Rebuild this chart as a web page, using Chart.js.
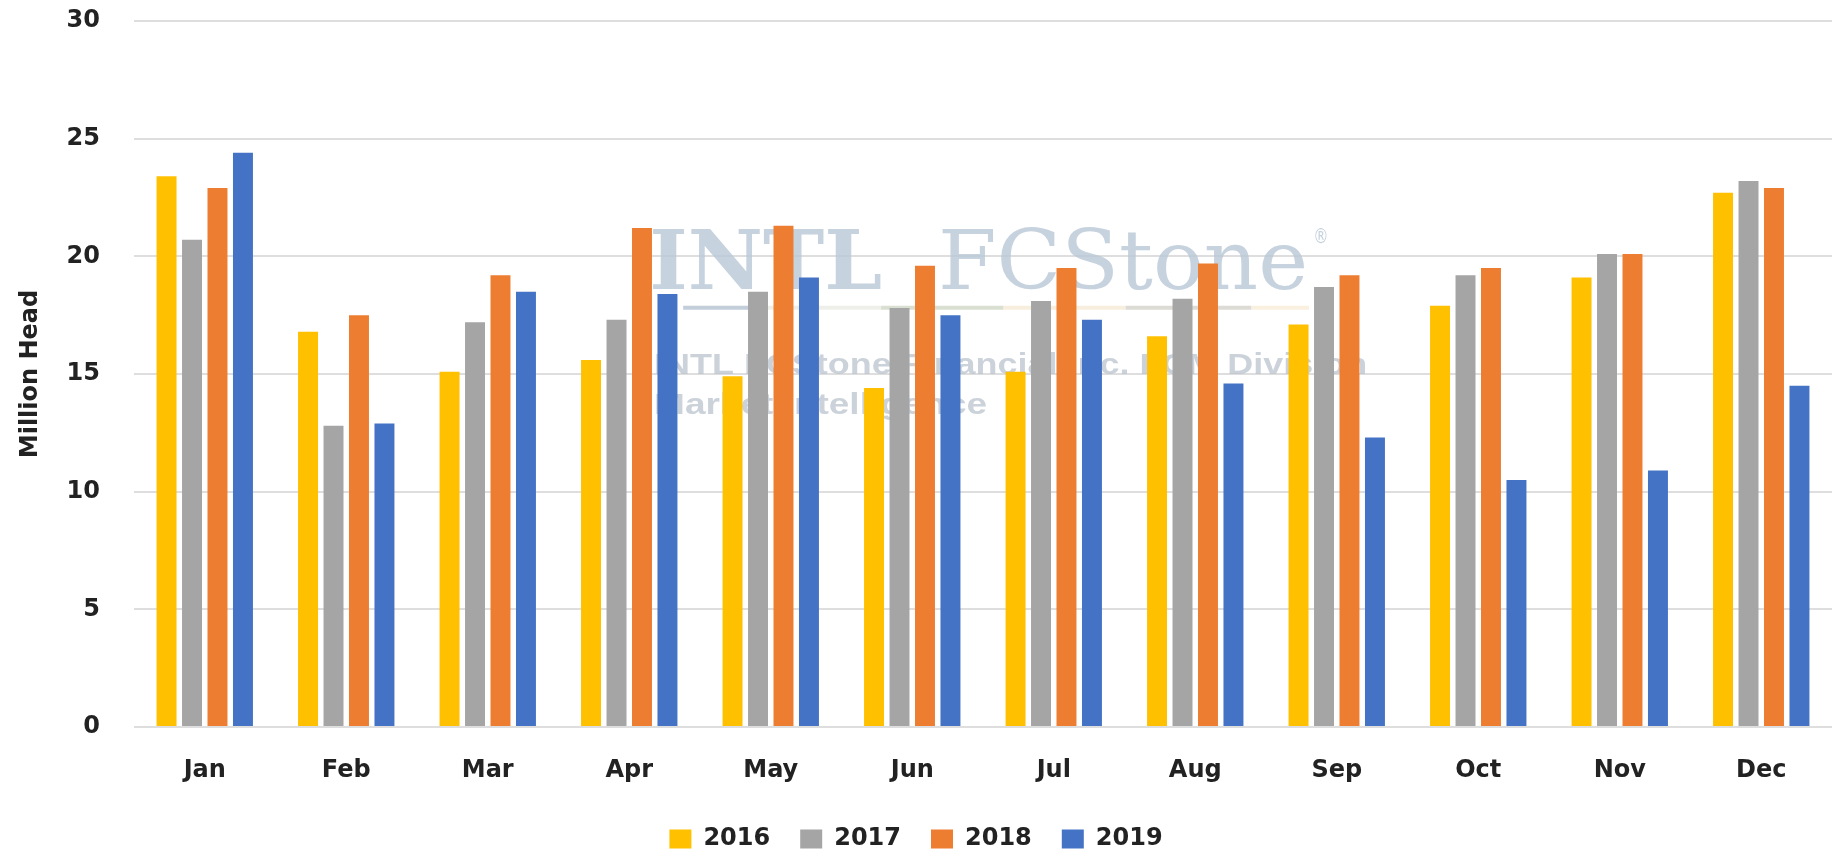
<!DOCTYPE html>
<html>
<head>
<meta charset="utf-8">
<script src="https://cdn.jsdelivr.net/npm/chart.js@4.4.1/dist/chart.umd.min.js"></script>
<style>
html,body{margin:0;padding:0;background:#ffffff;}
#wrap{width:1832px;height:850px;}
</style>
</head>
<body>
<div id="wrap"><canvas id="c" width="1832" height="850"></canvas></div>
<script>
const months = ['Jan','Feb','Mar','Apr','May','Jun','Jul','Aug','Sep','Oct','Nov','Dec'];
const seriesNames = ['2016','2017','2018','2019'];
const values2016 = [23.4, 16.8, 15.1, 15.6, 14.9, 14.4, 15.1, 16.6, 17.1, 17.9, 19.1, 22.7];
const values2017 = [20.7, 12.8, 17.2, 17.3, 18.5, 17.8, 18.1, 18.2, 18.7, 19.2, 20.1, 23.2];
const values2018 = [22.9, 17.5, 19.2, 21.2, 21.3, 19.6, 19.5, 19.7, 19.2, 19.5, 20.1, 22.9];
const values2019 = [24.4, 12.9, 18.5, 18.4, 19.1, 17.5, 17.3, 14.6, 12.3, 10.5, 10.9, 14.5];
const yTicks = [0, 5, 10, 15, 20, 25, 30];
const yTitle = 'Million Head';
const colors = ['#FFC000', '#A5A5A5', '#ED7D31', '#4472C4'];

const textColor = '#222222';
const fontFam = '"DejaVu Sans", "Open Sans", sans-serif';

const watermark = {
  id: 'watermark',
  beforeDatasetsDraw(chart) {
    const ctx = chart.ctx;
    const ca = chart.chartArea;
    const fx = f => ca.left + f * (ca.right - ca.left);
    const fy = f => ca.top + f * (ca.bottom - ca.top);
    ctx.save();
    const fitText = (txt, font, x0, x1, y) => {
      ctx.font = font;
      const w = ctx.measureText(txt).width;
      ctx.save();
      ctx.translate(x0, y);
      ctx.scale((x1 - x0) / w, 1);
      ctx.fillText(txt, 0, 0);
      ctx.restore();
    };
    ctx.textBaseline = 'alphabetic';
    ctx.textAlign = 'left';
    ctx.fillStyle = 'rgba(184,199,214,0.8)';
    fitText('INTL', 'bold 82px "DejaVu Serif"', fx(0.3034), fx(0.4406), fy(0.3793));
    fitText('FCStone', '82px "DejaVu Serif"', fx(0.4735), fx(0.6915), fy(0.3793));
    fitText('®', '22px "DejaVu Sans"', fx(0.6945), fx(0.7035), fy(0.3140));
    // stripe
    ctx.lineWidth = 4;
    const segs = [
      [0.3234, 0.3700, 'rgba(185,198,212,0.85)'],
      [0.3700, 0.4400, 'rgba(228,228,218,0.6)'],
      [0.4400, 0.5120, 'rgba(208,216,198,0.8)'],
      [0.5120, 0.5840, 'rgba(242,226,200,0.6)'],
      [0.5840, 0.6580, 'rgba(212,210,202,0.8)'],
      [0.6580, 0.6920, 'rgba(246,230,204,0.6)']
    ];
    segs.forEach(s => {
      ctx.strokeStyle = s[2];
      ctx.beginPath();
      ctx.moveTo(fx(s[0]), fy(0.4063));
      ctx.lineTo(fx(s[1]), fy(0.4063));
      ctx.stroke();
    });
    ctx.fillStyle = 'rgba(186,195,206,0.75)';
    fitText('INTL FCStone Financial Inc. FCM Division', 'bold 29px "Liberation Sans"', fx(0.3063), fx(0.7262), fy(0.5000));
    fitText('Market Intelligence', 'bold 29px "Liberation Sans"', fx(0.3063), fx(0.5024), fy(0.5568));
    ctx.restore();
  }
};

const datasets = [values2016, values2017, values2018, values2019].map((vals, i) => ({
  label: seriesNames[i],
  data: vals,
  backgroundColor: colors[i],
  borderWidth: 0,
  categoryPercentage: 0.72,
  barPercentage: 0.784
}));

new Chart(document.getElementById('c'), {
  type: 'bar',
  data: { labels: months, datasets: datasets },
  plugins: [watermark],
  options: {
    responsive: false,
    animation: false,
    devicePixelRatio: 1,
    layout: { padding: { top: 21, right: 0, left: 0, bottom: -11 } },
    plugins: {
      tooltip: { enabled: false },
      legend: {
        display: true,
        position: 'bottom',
        labels: {
          boxWidth: 22,
          boxHeight: 19,
          padding: 30,
          color: textColor,
          font: { family: fontFam, size: 24, weight: 'bold' }
        }
      }
    },
    scales: {
      x: {
        grid: { display: false },
        border: { display: false },
        ticks: {
          color: textColor,
          padding: 21,
          maxRotation: 0,
          font: { family: fontFam, size: 24, weight: 'bold' }
        },
        afterFit: s => { s.height = 70; }
      },
      y: {
        min: 0,
        max: 30,
        afterBuildTicks: s => { s.ticks = yTicks.map(v => ({ value: v })); },
        grid: { color: '#dedede', lineWidth: 2, drawTicks: false },
        border: { display: false },
        ticks: {
          color: textColor,
          padding: 34,
          font: { family: fontFam, size: 24, weight: 'bold' }
        },
        title: {
          display: true,
          text: yTitle,
          color: textColor,
          padding: { top: 16, bottom: 0 },
          font: { family: fontFam, size: 24, weight: 'bold' }
        },
        afterFit: s => { s.width = 134; s.paddingTop = 0; s.paddingBottom = 0; }
      }
    }
  }
});
</script>
</body>
</html>
